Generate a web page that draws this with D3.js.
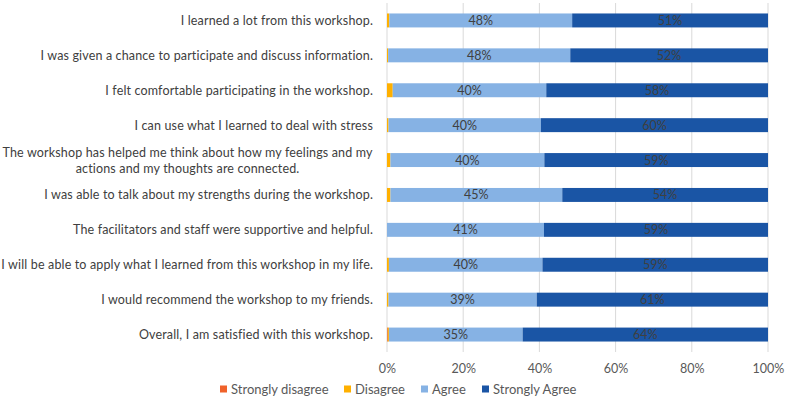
<!DOCTYPE html>
<html>

<head>
  <title>Workshop survey</title>
  <script src="https://cdn.jsdelivr.net/npm/d3@7"></script>
  <style>
    body { margin: 0; background: #fff; }
    text { font-family: Lato, "Noto Sans", sans-serif; }
  </style>
</head>

<body>
  <svg width="785" height="399" id="mainsvg"></svg>
  <script>
    const questions = [
      ["I learned a lot from this workshop."],
      ["I was given a chance to participate and discuss information."],
      ["I felt comfortable participating in the workshop."],
      ["I can use what I learned to deal with stress"],
      ["The workshop has helped me think about how my feelings and my", "actions and my thoughts are connected."],
      ["I was able to talk about my strengths during the workshop."],
      ["The facilitators and staff were supportive and helpful."],
      ["I will be able to apply what I learned from this workshop in my life."],
      ["I would recommend the workshop to my friends."],
      ["Overall, I am satisfied with this workshop."]
    ];
    const seriesNames = ["Strongly disagree", "Disagree", "Agree", "Strongly Agree"];
    const stronglyDisagree = [0, 0, 0, 0, 0, 0, 0, 0, 0, 0.2];
    const disagree = [0.6, 0.3, 1.5, 0.4, 0.9, 0.9, 0, 0.5, 0.4, 0.3];
    const agree = [48.0, 47.8, 40.3, 40.0, 40.4, 45.1, 41.2, 40.3, 38.9, 35.1];
    const stronglyAgree = [51.4, 51.9, 58.2, 59.6, 58.7, 54.0, 58.8, 59.2, 60.7, 64.4];
    const xTicks = [0, 20, 40, 60, 80, 100];

    const colors = ["#f0622a", "#ffb000", "#86b2e4", "#1a55a5"];

    const svg = d3.select('#mainsvg');
    const margin = { top: 3, right: 17, bottom: 47, left: 387 };
    const width = +svg.attr('width') - margin.left - margin.right;
    const height = +svg.attr('height') - margin.top - margin.bottom;
    const g = svg.append('g').attr('transform', `translate(${margin.left}, ${margin.top})`);

    const rows = questions.map((q, i) => ({
      q: q,
      "Strongly disagree": stronglyDisagree[i],
      "Disagree": disagree[i],
      "Agree": agree[i],
      "Strongly Agree": stronglyAgree[i]
    }));

    const x = d3.scaleLinear().domain([0, 100]).range([0, width]);
    const y = d3.scaleBand().domain(d3.range(rows.length)).range([0, height]).paddingInner(0.6).paddingOuter(0.3);
    const color = d3.scaleOrdinal().domain(seriesNames).range(colors);

    // grid lines
    g.selectAll('.grid')
      .data(xTicks)
      .join('line')
      .attr('class', 'grid')
      .attr('x1', d => x(d)).attr('x2', d => x(d))
      .attr('y1', 0).attr('y2', height)
      .attr('stroke', '#d9d9d9')
      .attr('stroke-width', 1);

    const stacked = d3.stack().keys(seriesNames)(rows);

    g.selectAll('.series')
      .data(stacked)
      .join('g')
      .attr('class', 'series')
      .attr('fill', d => color(d.key))
      .selectAll('rect')
      .data(d => d.map((v, i) => ({ v, i })))
      .join('rect')
      .attr('x', d => x(d.v[0]))
      .attr('y', d => y(d.i))
      .attr('width', d => Math.max(0, x(d.v[1]) - x(d.v[0])))
      .attr('height', y.bandwidth());

    // value labels for Agree and Strongly Agree
    stacked.filter(s => s.key === "Agree" || s.key === "Strongly Agree").forEach(s => {
      g.selectAll(null)
        .data(s.map((v, i) => ({ v, i })))
        .join('text')
        .attr('x', d => x((d.v[0] + d.v[1]) / 2))
        .attr('y', d => y(d.i) + y.bandwidth() / 2)
        .attr('dy', '0.36em')
        .attr('text-anchor', 'middle')
        .attr('font-size', 12.5)
        .attr('fill', '#404040')
        .text(d => Math.round(d.v[1] - d.v[0]) + '%');
    });

    // category labels (wrapped lines centred on each other, block right-aligned)
    const labels = g.selectAll('.cat')
      .data(rows)
      .join('text')
      .attr('class', 'cat')
      .attr('font-size', 12.5)
      .attr('letter-spacing', 0.15)
      .attr('fill', '#404040')
      .attr('text-anchor', 'middle');
    labels.each(function (d, i) {
      const t = d3.select(this);
      const n = d.q.length;
      d.q.forEach((line, k) => {
        t.append('tspan')
          .attr('x', 0)
          .attr('y', y(i) + y.bandwidth() / 2 + (k - (n - 1) / 2) * 16)
          .attr('dy', '0.36em')
          .text(line);
      });
      const bb = this.getBBox();
      t.attr('transform', `translate(${-14 - (bb.x + bb.width)}, 0)`);
    });

    // x axis
    const xAxis = g.append('g')
      .attr('transform', `translate(0, ${height})`)
      .call(d3.axisBottom(x).tickValues(xTicks).tickFormat(d => d + '%').tickSize(0).tickPadding(12));
    xAxis.select('.domain').remove();
    xAxis.selectAll('text').attr('font-size', 12.5).attr('fill', '#595959').style('font-family', 'Lato, sans-serif');

    // legend
    const legendX = [220, 344, 421, 482];
    const legend = svg.append('g').attr('transform', 'translate(0, 389)');
    const items = legend.selectAll('g')
      .data(seriesNames)
      .join('g')
      .attr('transform', (d, i) => `translate(${legendX[i]}, 0)`);
    items.append('rect')
      .attr('x', 0).attr('y', -3.5)
      .attr('width', 7).attr('height', 7)
      .attr('fill', d => color(d));
    items.append('text')
      .attr('x', 11)
      .attr('dy', '0.36em')
      .attr('font-size', 13)
      .attr('fill', '#595959')
      .text(d => d);
  </script>
</body>

</html>
